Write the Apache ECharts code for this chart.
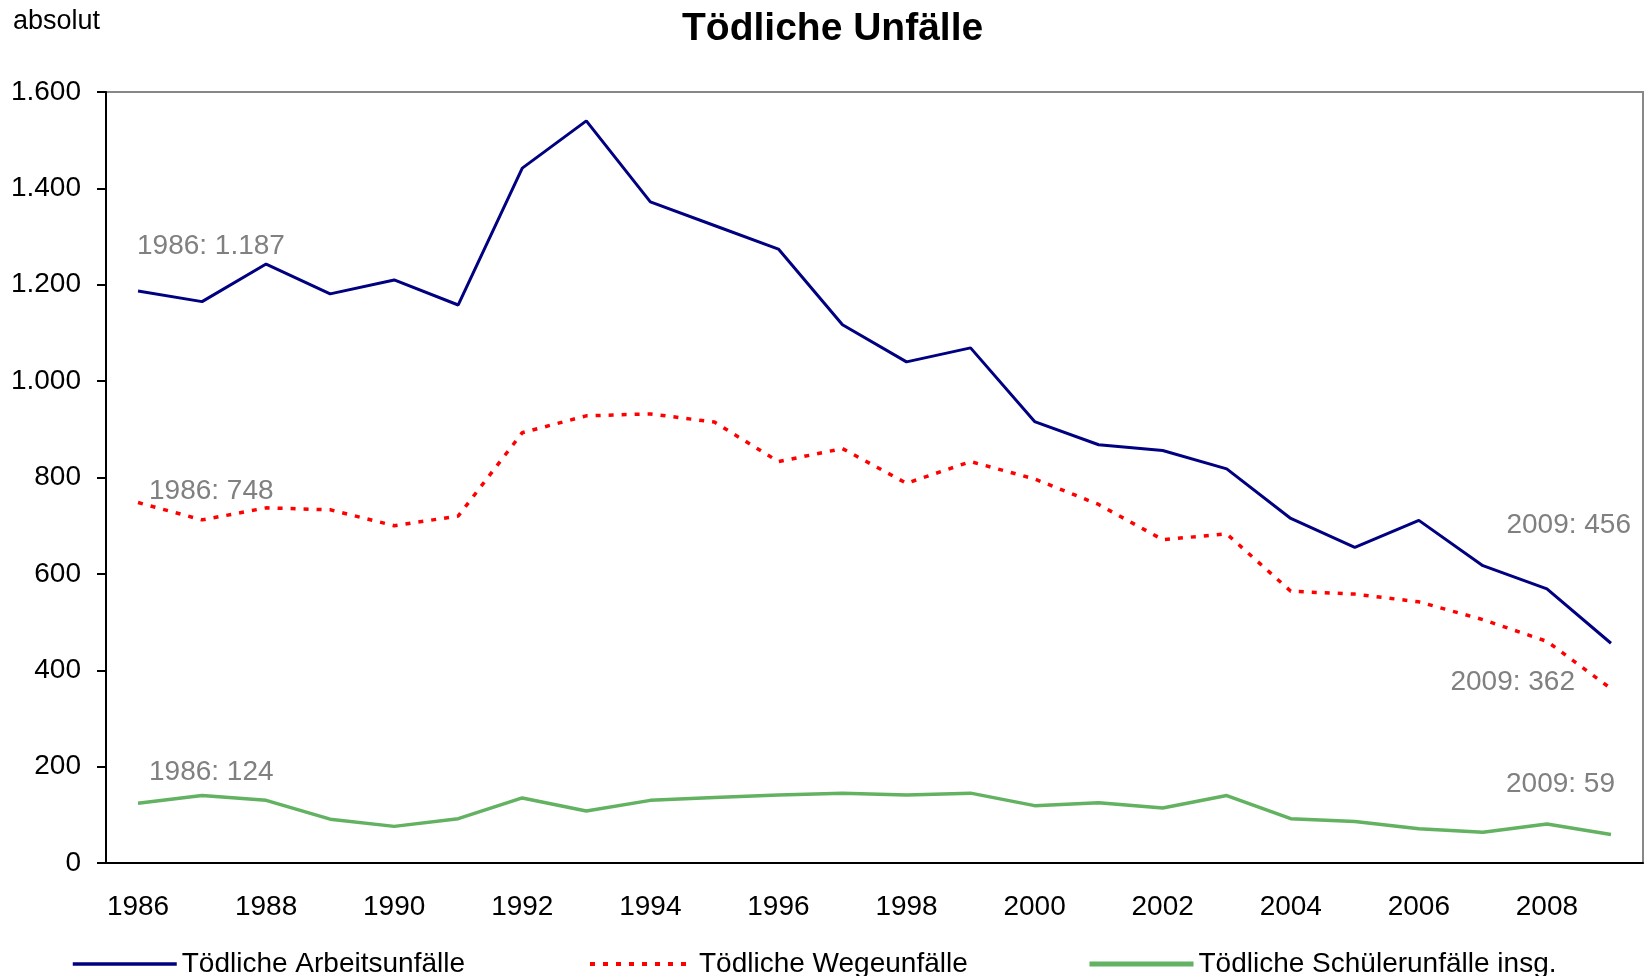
<!DOCTYPE html>
<html>
<head>
<meta charset="utf-8">
<title>Tödliche Unfälle</title>
<script src="https://cdn.jsdelivr.net/npm/echarts@6/dist/echarts.min.js"></script>
<style>
  html, body { margin: 0; padding: 0; background: #fff; }
  #chart { width: 1650px; height: 976px; }
</style>
</head>
<body>
<div id="chart"></div>
<script>
  // Daten (absolut)
  var years = ['1986', '1987', '1988', '1989', '1990', '1991', '1992', '1993', '1994', '1995', '1996', '1997',
    '1998', '1999', '2000', '2001', '2002', '2003', '2004', '2005', '2006', '2007', '2008', '2009']
  var arbeitsunfaelle = [1187, 1165, 1243, 1181, 1210, 1158, 1442, 1540, 1372, 1323, 1274, 1117,
    1040, 1069, 916, 868, 856, 818, 715, 655, 711, 617, 569, 456]
  var wegeunfaelle = [748, 712, 737, 733, 700, 720, 893, 928, 932, 915, 833, 860,
    788, 833, 797, 744, 671, 683, 564, 558, 542, 505, 460, 362]
  var schuelerunfaelle = [124, 140, 130, 91, 76, 92, 135, 108, 130, 136, 141, 145,
    141, 145, 119, 125, 114, 140, 92, 86, 71, 64, 81, 59]
  var yTicks = [0, 200, 400, 600, 800, 1000, 1200, 1400, 1600]

  var font = '"Liberation Sans", Arial, sans-serif'

  // 1.187 statt 1187
  function fmt(n) {
    return String(n).replace(/\B(?=(\d{3})+(?!\d))/g, '.')
  }

  // Beschriftung erster / letzter Wert
  function endMarks(values, firstOffset, lastOffset) {
    var last = values.length - 1
    return {
      symbol: 'circle',
      symbolSize: 1,
      itemStyle: { color: 'rgba(0,0,0,0)' },
      label: {
        show: true,
        position: 'inside',
        color: '#808080',
        fontFamily: font,
        fontSize: 28,
        verticalAlign: 'middle',
        formatter: function (p) { return p.name + ': ' + fmt(p.value) }
      },
      data: [
        { name: years[0], coord: [0, values[0]], value: values[0],
          label: { align: 'left', offset: firstOffset } },
        { name: years[last], coord: [last, values[last]], value: values[last],
          label: { align: 'right', offset: lastOffset } }
      ]
    }
  }

  var option = {
    animation: false,
    backgroundColor: '#fff',
    title: [
      {
        text: 'Tödliche Unfälle',
        left: 677,
        top: 5,
        textStyle: { fontFamily: font, fontSize: 39, fontWeight: 'bold', color: '#000' }
      },
      {
        text: 'absolut',
        left: 8,
        top: 3,
        textStyle: { fontFamily: font, fontSize: 27, fontWeight: 'normal', color: '#000' }
      }
    ],
    legend: [
      { left: 66, data: ['Tödliche Arbeitsunfälle'], lineStyle: { width: 3.5 } },
      { left: 583, data: ['Tödliche Wegeunfälle'], lineStyle: { width: 4 } },
      { left: 1082, data: ['Tödliche Schülerunfälle insg.'], lineStyle: { width: 5 } }
    ].map(function (l) {
      l.top = 945
      l.itemWidth = 104
      l.itemHeight = 14
      l.itemStyle = { opacity: 0 }
      l.textStyle = { fontFamily: font, fontSize: 28, color: '#000' }
      return l
    }),
    grid: {
      left: 106,
      right: 7,
      top: 92,
      bottom: 113,
      show: true,
      borderColor: '#888',
      borderWidth: 2
    },
    xAxis: {
      type: 'category',
      data: years,
      boundaryGap: true,
      axisLine: { lineStyle: { color: '#000', width: 2 } },
      axisTick: { interval: 0, length: 8, lineStyle: { color: '#000', width: 2 } },
      axisLabel: { interval: 1, margin: 30, color: '#000', fontFamily: font, fontSize: 28 },
      splitLine: { show: false }
    },
    yAxis: {
      type: 'value',
      min: yTicks[0],
      max: yTicks[yTicks.length - 1],
      interval: yTicks[1] - yTicks[0],
      axisLine: { show: true, lineStyle: { color: '#000', width: 2 } },
      axisTick: { show: true, length: 9, lineStyle: { color: '#000', width: 2 } },
      axisLabel: { margin: 25, color: '#000', fontFamily: font, fontSize: 28, formatter: fmt },
      splitLine: { show: false }
    },
    series: [
      {
        name: 'Tödliche Arbeitsunfälle',
        type: 'line',
        data: arbeitsunfaelle,
        symbol: 'none',
        color: '#000080',
        lineStyle: { color: '#000080', width: 3 },
        markPoint: endMarks(arbeitsunfaelle, [-1, -45], [20, -118])
      },
      {
        name: 'Tödliche Wegeunfälle',
        type: 'line',
        data: wegeunfaelle,
        symbol: 'none',
        color: '#ff0000',
        lineStyle: { color: '#ff0000', width: 3.5, type: [5, 8] },
        markPoint: endMarks(wegeunfaelle, [11, -11], [-36, -6])
      },
      {
        name: 'Tödliche Schülerunfälle insg.',
        type: 'line',
        data: schuelerunfaelle,
        symbol: 'none',
        color: '#62b262',
        lineStyle: { color: '#62b262', width: 3.5 },
        markPoint: endMarks(schuelerunfaelle, [11, -31], [4, -50])
      }
    ]
  }

  var chart = echarts.init(document.getElementById('chart'))
  chart.setOption(option)
  window.addEventListener('resize', () => {
    chart.resize()
  })
</script>
</body>
</html>
